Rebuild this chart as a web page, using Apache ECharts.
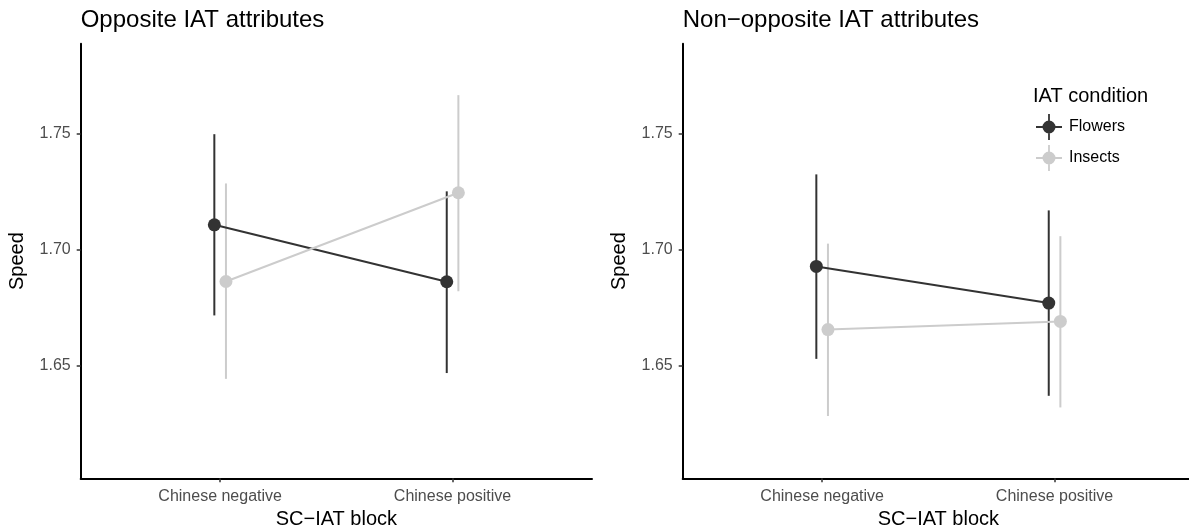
<!DOCTYPE html>
<html>
<head>
<meta charset="utf-8">
<script src="https://cdn.jsdelivr.net/npm/echarts@6/dist/echarts.min.js"></script>
<style>
html,body{margin:0;padding:0;background:#fff;}
#chart{width:1189px;height:528px;}
</style>
</head>
<body>
<div id="chart"></div>
<script>
// ---- data ----
const categories = ['Chinese negative', 'Chinese positive'];
const categoryPositions = [1, 2];
const yTicks = [1.65, 1.70, 1.75];
const panelTitles = ['Opposite IAT attributes', 'Non\u2212opposite IAT attributes'];
const groups = ['Flowers', 'Insects'];

const oppFlowersMean = [1.7106, 1.6861];
const oppFlowersLow  = [1.6716, 1.6468];
const oppFlowersHigh = [1.7496, 1.7250];
const oppInsectsMean = [1.6862, 1.7244];
const oppInsectsLow  = [1.6443, 1.6820];
const oppInsectsHigh = [1.7284, 1.7664];

const nonFlowersMean = [1.6927, 1.6769];
const nonFlowersLow  = [1.6529, 1.6370];
const nonFlowersHigh = [1.7323, 1.7168];
const nonInsectsMean = [1.6655, 1.6690];
const nonInsectsLow  = [1.6283, 1.6320];
const nonInsectsHigh = [1.7025, 1.7057];

// ---- styling ----
const colors = {Flowers: '#333333', Insects: '#cccccc'};
const dodge = {Flowers: -0.025, Insects: 0.025};
const FONT = '"Liberation Sans", Arial, Helvetica, sans-serif';

const panels = [
  {Flowers: [oppFlowersMean, oppFlowersLow, oppFlowersHigh], Insects: [oppInsectsMean, oppInsectsLow, oppInsectsHigh]},
  {Flowers: [nonFlowersMean, nonFlowersLow, nonFlowersHigh], Insects: [nonInsectsMean, nonInsectsLow, nonInsectsHigh]}
];

const gridLefts = [80.7, 682.7];
const grids = gridLefts.map(l => ({left: l, top: 43.8, width: 511.3, height: 434.5,
  containLabel: false, outerBoundsMode: 'none'}));

const xAxes = grids.map((g, i) => ({
  type: 'value', gridIndex: i, min: 0.4, max: 2.6,
  name: 'SC\u2212IAT block', nameLocation: 'middle', nameGap: 29,
  nameTextStyle: {fontSize: 20, color: '#000', fontFamily: FONT},
  axisLine: {show: true, onZero: false, lineStyle: {color: '#000', width: 2}},
  axisTick: {show: true, customValues: categoryPositions, length: 4, lineStyle: {color: '#333', width: 1.5}},
  axisLabel: {customValues: categoryPositions, formatter: v => categories[Math.round(v) - 1] || '',
    fontSize: 16, color: '#4d4d4d', margin: 10, fontFamily: FONT},
  splitLine: {show: false}
}));

const yAxes = grids.map((g, i) => ({
  type: 'value', gridIndex: i, min: 1.6015, max: 1.7885,
  name: 'Speed', nameLocation: 'middle', nameGap: 53, nameRotate: 90,
  nameTextStyle: {fontSize: 20, color: '#000', fontFamily: FONT},
  axisLine: {show: true, lineStyle: {color: '#000', width: 2}},
  axisTick: {show: true, customValues: yTicks, length: 4, lineStyle: {color: '#333', width: 1.5}},
  axisLabel: {customValues: yTicks, formatter: v => v.toFixed(2), fontSize: 16, color: '#4d4d4d', margin: 10, fontFamily: FONT},
  splitLine: {show: false}
}));

const series = [];
panels.forEach((p, pi) => {
  groups.forEach(gname => {
    const [mean, low, high] = p[gname];
    const ebData = categoryPositions.map((c, k) => [c + dodge[gname], low[k], high[k]]);
    series.push({
      type: 'custom', name: gname + ' CI ' + pi, xAxisIndex: pi, yAxisIndex: pi, z: 1,
      data: ebData, encode: {x: 0, y: [1, 2]}, silent: true,
      renderItem: (params, api) => {
        const lo = api.coord([api.value(0), api.value(1)]);
        const hi = api.coord([api.value(0), api.value(2)]);
        return {type: 'line', shape: {x1: lo[0], y1: lo[1], x2: hi[0], y2: hi[1]},
          style: {stroke: colors[gname], lineWidth: 2}};
      }
    });
  });
  groups.forEach(gname => {
    const [mean] = p[gname];
    series.push({
      type: 'line', name: gname, xAxisIndex: pi, yAxisIndex: pi, z: 3,
      data: categoryPositions.map((c, k) => [c + dodge[gname], mean[k]]),
      symbol: 'circle', symbolSize: 13, showSymbol: true,
      itemStyle: {color: colors[gname], borderWidth: 0},
      lineStyle: {color: colors[gname], width: 2},
      animation: false
    });
  });
});

const legendIcon = 'path://M0,12.1H26V13.9H0Z M12.1,0H13.9V26H12.1Z M13,6.5A6.5,6.5,0,1,1,12.99,6.5Z';

const option = {
  backgroundColor: '#fff',
  animation: false,
  textStyle: {fontFamily: FONT},
  title: [
    {text: panelTitles[0], left: 80.7, top: 8.5, padding: 0, textStyle: {fontSize: 24, fontWeight: 'normal', color: '#000', fontFamily: FONT}},
    {text: panelTitles[1], left: 682.7, top: 8.5, padding: 0, textStyle: {fontSize: 24, fontWeight: 'normal', color: '#000', fontFamily: FONT}},
    {text: 'IAT condition', left: 1033, top: 86, padding: 0, textStyle: {fontSize: 20, fontWeight: 'normal', color: '#000', fontFamily: FONT}}
  ],
  legend: {
    data: groups, orient: 'vertical', left: 1036, top: 114, padding: 0,
    itemWidth: 26, itemHeight: 26, itemGap: 5, icon: legendIcon,
    itemStyle: {borderWidth: 0},
    textStyle: {fontSize: 16, color: '#000', fontFamily: FONT, padding: [0, 0, 0, 2]},
    selectedMode: false
  },
  grid: grids,
  xAxis: xAxes,
  yAxis: yAxes,
  series: series
};

const chart = echarts.init(document.getElementById('chart'), null, {renderer: 'canvas'});
chart.setOption(option);
</script>
</body>
</html>
